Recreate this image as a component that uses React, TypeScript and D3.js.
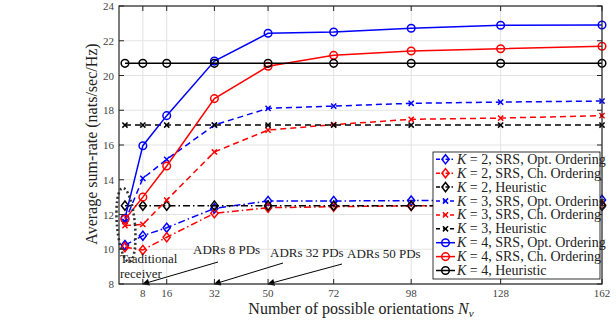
import * as d3 from 'd3'

const xPoints = [2, 8, 16, 32, 50, 72, 98, 128, 162]
const xTicks = [8, 16, 32, 50, 72, 98, 128, 162]
const yTicks = [8, 10, 12, 14, 16, 18, 20, 22, 24]

const k2Opt = [10.24, 10.78, 11.24, 12.35, 12.78, 12.78, 12.8, 12.82, 12.84]
const k2Ch = [10.12, 9.96, 10.69, 12.07, 12.39, 12.45, 12.5, 12.5, 12.55]
const k2Heur = [12.51, 12.51, 12.51, 12.51, 12.51, 12.51, 12.51, 12.51, 12.51]
const k3Opt = [11.6, 14.08, 15.17, 17.15, 18.11, 18.24, 18.4, 18.47, 18.53]
const k3Ch = [11.36, 11.43, 12.83, 15.6, 16.86, 17.17, 17.48, 17.55, 17.69]
const k3Heur = [17.15, 17.15, 17.15, 17.15, 17.15, 17.15, 17.15, 17.15, 17.15]
const k4Opt = [11.78, 15.96, 17.69, 20.83, 22.43, 22.5, 22.72, 22.89, 22.91]
const k4Ch = [11.72, 13.0, 14.79, 18.67, 20.53, 21.16, 21.41, 21.54, 21.68]
const k4Heur = [20.7, 20.7, 20.7, 20.7, 20.7, 20.7, 20.7, 20.7, 20.7]

type Marker = 'diamond' | 'x' | 'circle'
interface Series {
  k: number
  label: string
  values: number[]
  color: string
  dash: string
  marker: Marker
}

const series: Series[] = [
  { k: 2, label: ', SRS, Opt. Ordering', values: k2Opt, color: '#0000ff', dash: '7 3 1.5 3', marker: 'diamond' },
  { k: 2, label: ', SRS, Ch. Ordering', values: k2Ch, color: '#ff0000', dash: '7 3 1.5 3', marker: 'diamond' },
  { k: 2, label: ', Heuristic', values: k2Heur, color: '#000000', dash: '7 3 1.5 3', marker: 'diamond' },
  { k: 3, label: ', SRS, Opt. Ordering', values: k3Opt, color: '#0000ff', dash: '6 4', marker: 'x' },
  { k: 3, label: ', SRS, Ch. Ordering', values: k3Ch, color: '#ff0000', dash: '6 4', marker: 'x' },
  { k: 3, label: ', Heuristic', values: k3Heur, color: '#000000', dash: '6 4', marker: 'x' },
  { k: 4, label: ', SRS, Opt. Ordering', values: k4Opt, color: '#0000ff', dash: '', marker: 'circle' },
  { k: 4, label: ', SRS, Ch. Ordering', values: k4Ch, color: '#ff0000', dash: '', marker: 'circle' },
  { k: 4, label: ', Heuristic', values: k4Heur, color: '#000000', dash: '', marker: 'circle' },
]

const arrows = [
  { text: 'ADRs 8 PDs', target: 8, tx: 193, ty: 258, fx: 218, fy: 262 },
  { text: 'ADRs 32 PDs', target: 32, tx: 270, ty: 261, fx: 283, fy: 263 },
  { text: 'ADRs 50 PDs', target: 50, tx: 347, ty: 262, fx: 342, fy: 264 },
]

const W = 616
const H = 322
const left = 119
const right = 602
const top = 6
const bottom = 284
const font = "'Liberation Serif', 'DejaVu Serif', serif"
const axisColor = '#262626'

const x = d3.scaleLinear().domain([0, 162]).range([left, right])
const y = d3.scaleLinear().domain([8, 24]).range([bottom, top])

function MarkerShape({ type, cx, cy, color }: { type: Marker; cx: number; cy: number; color: string }) {
  if (type === 'circle') {
    return <circle cx={cx} cy={cy} r={3.8} fill="none" stroke={color} strokeWidth={1.5} />
  }
  if (type === 'diamond') {
    const w = 3.6
    const h = 4.6
    return (
      <path
        d={`M${cx},${cy - h}L${cx + w},${cy}L${cx},${cy + h}L${cx - w},${cy}Z`}
        fill="none"
        stroke={color}
        strokeWidth={1.5}
      />
    )
  }
  const s = 2.6
  return (
    <path
      d={`M${cx - s},${cy - s}L${cx + s},${cy + s}M${cx - s},${cy + s}L${cx + s},${cy - s}`}
      stroke={color}
      strokeWidth={1.5}
    />
  )
}

export default function App() {
  const line = d3
    .line<number>()
    .x((_, i) => x(xPoints[i]))
    .y(d => y(d))

  const legendTop = 152
  const legendRow = 13.9
  const legendLeft = 433

  return (
    <svg width={W} height={H} style={{ position: 'absolute', left: 0, top: 0 }} fontFamily={font}>
      <defs>
        <marker id="arrowhead" viewBox="0 0 10 10" refX={9} refY={5} markerWidth={9} markerHeight={7} orient="auto" markerUnits="userSpaceOnUse">
          <path d="M0,0L10,5L0,10Z" fill="#000" />
        </marker>
      </defs>
      <rect x={left} y={top} width={right - left} height={bottom - top} fill="#fff" />
      {/* grid */}
      {xTicks.map(t => (
        <line key={'gx' + t} x1={x(t)} x2={x(t)} y1={top} y2={bottom} stroke="#e3e3e3" strokeWidth={1} />
      ))}
      {yTicks.map(t => (
        <line key={'gy' + t} x1={left} x2={right} y1={y(t)} y2={y(t)} stroke="#e3e3e3" strokeWidth={1} />
      ))}

      {/* series */}
      {series.map((s, si) => (
        <g key={si}>
          <path d={line(s.values) || ''} fill="none" stroke={s.color} strokeWidth={1.5} strokeDasharray={s.dash || undefined} />
          {s.values.map((v, i) => (
            <MarkerShape key={i} type={s.marker} cx={x(xPoints[i])} cy={y(v)} color={s.color} />
          ))}
        </g>
      ))}

      {/* traditional receiver ellipse */}
      <ellipse
        cx={x(2) + 1}
        cy={y(11.4)}
        rx={9}
        ry={37}
        fill="none"
        stroke="#333"
        strokeWidth={2.6}
        strokeDasharray="2 2.6"
        transform={`rotate(-5 ${x(2) + 1} ${y(11.4)})`}
      />
      <text x={left + 1} y={263} fontSize={13} fill="#222">Traditional</text>
      <text x={left + 1} y={278} fontSize={13} fill="#222">receiver</text>

      {/* arrows */}
      {arrows.map(a => (
        <g key={a.text}>
          <text x={a.tx} y={a.ty - 4} fontSize={13} fill="#222">{a.text}</text>
          <line x1={a.fx} y1={a.fy} x2={x(a.target)} y2={bottom} stroke="#000" strokeWidth={1} markerEnd="url(#arrowhead)" />
        </g>
      ))}

      {/* axes box */}
      <rect x={left} y={top} width={right - left} height={bottom - top} fill="none" stroke={axisColor} strokeWidth={1.2} />
      {xTicks.map(t => (
        <g key={'tx' + t}>
          <line x1={x(t)} x2={x(t)} y1={bottom} y2={bottom - 5} stroke={axisColor} />
          <line x1={x(t)} x2={x(t)} y1={top} y2={top + 5} stroke={axisColor} />
          <text x={x(t)} y={bottom + 13} fontSize={11} textAnchor="middle" fill="#444">{t}</text>
        </g>
      ))}
      {yTicks.map(t => (
        <g key={'ty' + t}>
          <line x1={left} x2={left + 5} y1={y(t)} y2={y(t)} stroke={axisColor} />
          <line x1={right} x2={right - 5} y1={y(t)} y2={y(t)} stroke={axisColor} />
          <text x={left - 5} y={y(t) + 4} fontSize={11} textAnchor="end" fill="#444">{t}</text>
        </g>
      ))}

      {/* labels */}
      <text x={361} y={314} fontSize={16} textAnchor="middle" fill="#222">
        Number of possible orientations <tspan fontStyle="italic">N</tspan>
        <tspan fontStyle="italic" fontSize={11} dy={3}>ν</tspan>
      </text>
      <text transform={`translate(97,${(top + bottom) / 2 - 1}) rotate(-90)`} fontSize={16} textAnchor="middle" fill="#222">
        Average sum-rate (nats/sec/Hz)
      </text>

      {/* legend */}
      <rect x={legendLeft} y={legendTop} width={600 - legendLeft} height={127} fill="#fff" stroke="#000" strokeWidth={0.8} />
      {series.map((s, i) => {
        const cy = legendTop + 7.3 + i * legendRow
        return (
          <g key={'l' + i}>
            <line x1={legendLeft + 3} x2={legendLeft + 22} y1={cy} y2={cy} stroke={s.color} strokeWidth={1.5} strokeDasharray={s.dash ? (s.marker === 'diamond' ? '4 2 1.5 2' : '4 3') : undefined} />
            <MarkerShape type={s.marker} cx={legendLeft + 12.5} cy={cy} color={s.color} />
            <text x={legendLeft + 24} y={cy + 4.5} fontSize={14} fill="#222">
              <tspan fontStyle="italic">K</tspan> = {s.k}{s.label}
            </text>
          </g>
        )
      })}
    </svg>
  )
}
